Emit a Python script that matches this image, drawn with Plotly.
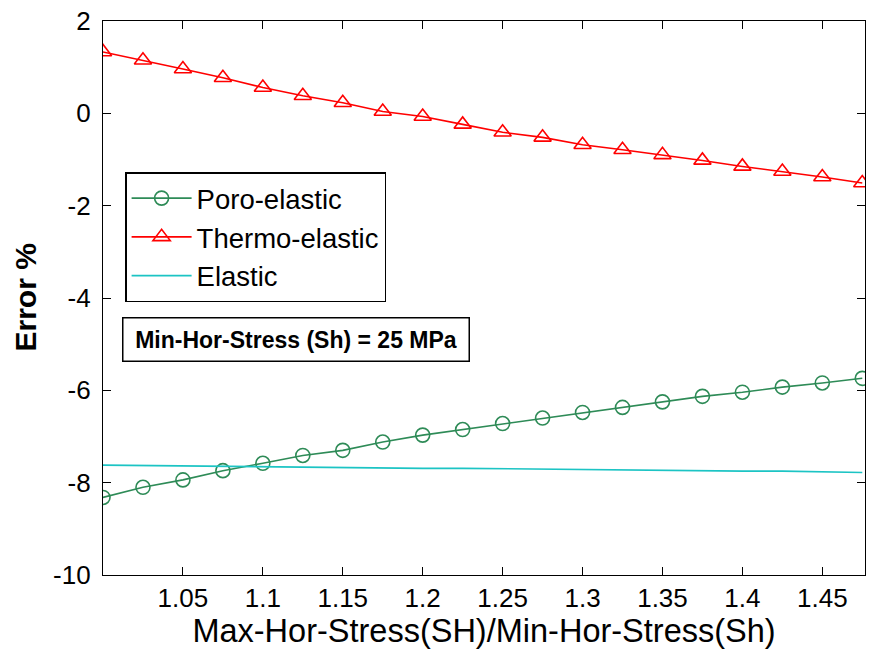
import plotly.graph_objects as go

# Stress ratio SH/Sh
ratio = [1.000, 1.025, 1.050, 1.075, 1.100, 1.125, 1.150, 1.175, 1.200, 1.225,
         1.250, 1.275, 1.300, 1.325, 1.350, 1.375, 1.400, 1.425, 1.450, 1.475]

# Error (%) for each model
poro_elastic = [-8.32, -8.10, -7.94, -7.74, -7.58, -7.41, -7.30, -7.12, -6.97, -6.85,
                -6.72, -6.60, -6.48, -6.37, -6.25, -6.13, -6.04, -5.93, -5.84, -5.74]
thermo_elastic = [1.33, 1.15, 0.96, 0.77, 0.56, 0.38, 0.23, 0.04, -0.07, -0.24,
                  -0.41, -0.52, -0.68, -0.79, -0.90, -1.02, -1.15, -1.26, -1.38, -1.51]
elastic = [-7.62, -7.63, -7.64, -7.65, -7.66, -7.66, -7.67, -7.68, -7.69, -7.69,
           -7.70, -7.71, -7.72, -7.72, -7.73, -7.74, -7.75, -7.75, -7.76, -7.78]

x_ticks = [1.05, 1.1, 1.15, 1.2, 1.25, 1.3, 1.35, 1.4, 1.45]
y_ticks = [-10, -8, -6, -4, -2, 0, 2]

FONT = "Liberation Sans, Arial, sans-serif"

fig = go.Figure()
fig.add_trace(go.Scatter(
    x=ratio, y=poro_elastic, name="Poro-elastic", mode="lines+markers",
    line=dict(color="#2E8B57", width=1.6),
    marker=dict(symbol="circle-open", size=14, color="#2E8B57", line=dict(width=1.6)),
))
fig.add_trace(go.Scatter(
    x=ratio, y=thermo_elastic, name="Thermo-elastic", mode="lines+markers",
    line=dict(color="#FF0000", width=1.6),
    marker=dict(symbol="triangle-up-open", size=15, color="#FF0000", line=dict(width=1.6)),
))
fig.add_trace(go.Scatter(
    x=ratio, y=elastic, name="Elastic", mode="lines",
    line=dict(color="#1CC4C4", width=1.6),
))

axis_common = dict(
    showline=True, linecolor="black", linewidth=1.2, mirror="ticks",
    ticks="inside", ticklen=8, tickwidth=1.2, tickcolor="black",
    showgrid=False, zeroline=False,
    tickfont=dict(family=FONT, size=26, color="black"),
)

fig.update_layout(
    width=872, height=659,
    margin=dict(l=103, r=6, t=17, b=84),
    plot_bgcolor="white", paper_bgcolor="white",
    font=dict(family=FONT, color="black"),
    xaxis=dict(
        range=[1.0, 1.4767], tickvals=x_ticks,
        ticktext=[f"{v:g}" for v in x_ticks],
        title=dict(text="Max-Hor-Stress(SH)/Min-Hor-Stress(Sh)",
                   font=dict(family=FONT, size=32.5, color="black"), standoff=6),
        **axis_common,
    ),
    yaxis=dict(
        range=[-10, 2], tickvals=y_ticks,
        ticktext=[f"{v:d}" for v in y_ticks],
        ticklabelstandoff=6,
        **axis_common,
    ),
    showlegend=True,
    legend=dict(
        x=0.029, y=0.727, xanchor="left", yanchor="top",
        bgcolor="white", bordercolor="black", borderwidth=1.5,
        font=dict(family=FONT, size=27.5, color="black"),
        itemwidth=60, tracegroupgap=0,
    ),
    annotations=[
        dict(text="<b>Error %</b>", xref="paper", yref="paper",
             x=-0.103, y=0.5, xanchor="center", yanchor="middle",
             textangle=-90, showarrow=False,
             font=dict(family=FONT, size=30, color="black")),
        dict(text="<b>Min-Hor-Stress (Sh) = 25 MPa</b>", xref="paper", yref="paper",
             x=0.253, y=0.425, xanchor="center", yanchor="middle",
             width=333, height=30,
             showarrow=False, bordercolor="black", borderwidth=1.5,
             borderpad=6, bgcolor="white",
             font=dict(family=FONT, size=23, color="black")),
    ],
)

fig.write_html("out.html")
